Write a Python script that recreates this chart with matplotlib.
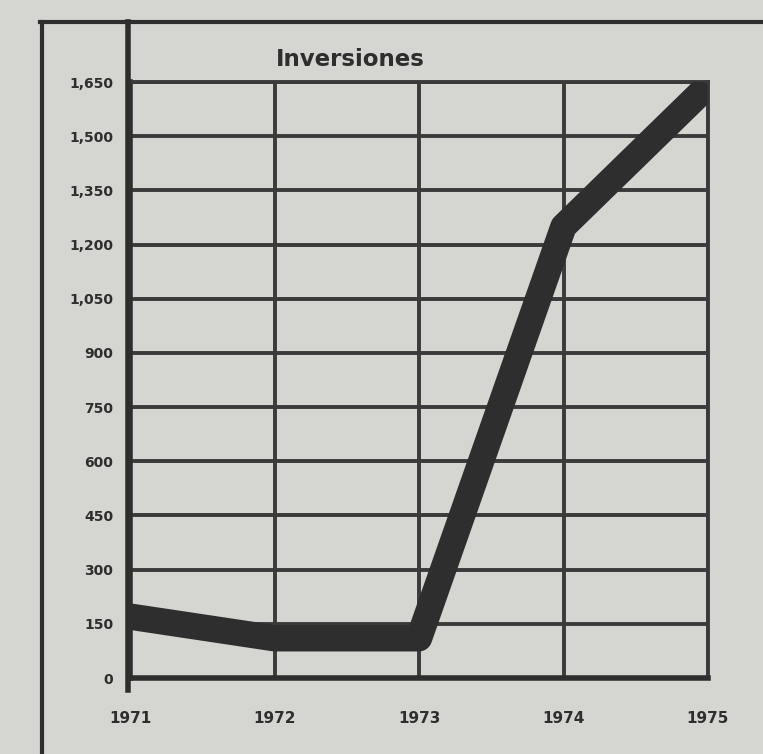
import numpy as np
import matplotlib
matplotlib.use('Agg')
import matplotlib.pyplot as plt
from matplotlib.lines import Line2D

# ── Data ─────────────────────────────────────────────────────────────────────
years = [1971, 1972, 1973, 1974, 1975]
inversiones = [170, 110, 110, 1250, 1640]
yticks = [0, 150, 300, 450, 600, 750, 900, 1050, 1200, 1350, 1500, 1650]
ytick_labels = ['0', '150', '300', '450', '600', '750', '900',
                '1,050', '1,200', '1,350', '1,500', '1,650']
title = 'Inversiones'

W, H = 763, 754
PAPER = '#d5d5d1'
INK = '#2e2e2e'

fig = plt.figure(figsize=(W / 100, H / 100), dpi=100)
fig.patch.set_facecolor(PAPER)

# axes box in pixel coordinates of the reference
x0, x1, y0, y1 = 130, 708, 678, 82
ax = fig.add_axes([x0 / W, 1 - y0 / H, (x1 - x0) / W, (y0 - y1) / H])
ax.set_facecolor(PAPER)

ax.plot(years, inversiones, color=INK, lw=19, solid_capstyle='butt',
        solid_joinstyle='round', zorder=3)

ax.set_xlim(years[0], years[-1])
ax.set_ylim(0, yticks[-1])
ax.set_xticks(years)
ax.set_xticklabels([str(y) for y in years])
ax.set_yticks(yticks)
ax.set_yticklabels(ytick_labels)
ax.grid(True, color='#3a3a3a', lw=2.8, zorder=1)
ax.tick_params(axis='x', length=0, pad=24, colors=INK)
ax.tick_params(axis='y', length=0, pad=12, colors=INK)
for lbl in ax.get_xticklabels():
    lbl.set_fontsize(11)
    lbl.set_fontweight('bold')
for lbl in ax.get_yticklabels():
    lbl.set_fontsize(10)
    lbl.set_fontweight('bold')

for side in ('top', 'right'):
    ax.spines[side].set_linewidth(2.8)
    ax.spines[side].set_color('#3a3a3a')
for side in ('left', 'bottom'):
    ax.spines[side].set_linewidth(4)
    ax.spines[side].set_color(INK)

fig.text(350 / W, 1 - 60 / H, title, ha='center', va='center',
         fontsize=16.5, fontweight='bold', color=INK)

# outer frame of the printed box
def px_line(xs, ys, lw):
    fig.add_artist(Line2D([x / W for x in xs], [1 - y / H for y in ys],
                          transform=fig.transFigure, color=INK, lw=lw))

px_line([42, 42], [22, H], 3)
px_line([40, W], [22, 22], 3)
px_line([128, 128], [22, 690], 4)

fig.savefig('out.png', dpi=100, facecolor=PAPER)
